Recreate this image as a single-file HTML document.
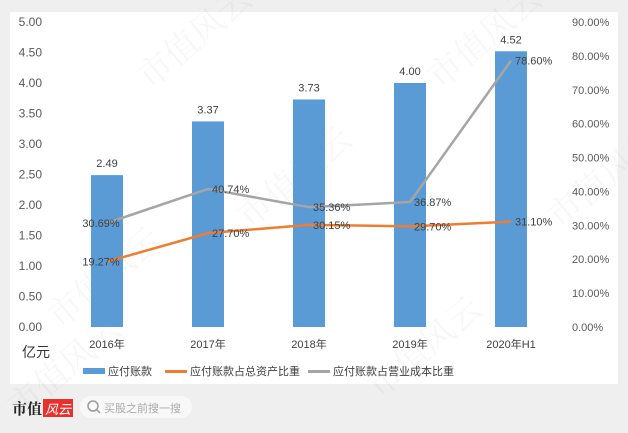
<!DOCTYPE html>
<html><head><meta charset="utf-8"><style>
body{margin:0;background:#efefef;width:628px;height:428px;overflow:hidden;font-family:"Liberation Sans","Noto Sans CJK SC",sans-serif}
</style></head><body>
<svg width="628" height="428" xmlns="http://www.w3.org/2000/svg" font-family="Liberation Sans, Noto Sans CJK SC, sans-serif">
<rect x="10" y="12" width="608" height="372" fill="#fff"/>
<g id="g"></g>
<g>
<text x="12" y="414" font-size="15" font-weight="bold" fill="#222" font-family="Noto Serif CJK SC, serif">市值</text>
<rect x="43" y="399" width="30" height="18" fill="#e8302c"/>
<text x="45" y="414" font-size="13" fill="#fff" font-style="italic">风云</text>
<rect x="80" y="396" width="112" height="22" rx="11" fill="#f8f8f8"/>
<circle cx="93" cy="406" r="5" fill="none" stroke="#999" stroke-width="1.5"/>
<line x1="96.5" y1="409.5" x2="100" y2="413" stroke="#999" stroke-width="1.5"/>
<text x="104" y="412" font-size="11" fill="#aaa">买股之前搜一搜</text>
</g>
</svg>
<script>
const cats=["2016年","2017年","2018年","2019年","2020年H1"];
const bars=[2.49,3.37,3.73,4.00,4.52];
const orange=[19.27,27.70,30.15,29.70,31.10];
const gray=[30.69,40.74,35.36,36.87,78.60];
const leftTicks=["0.00","0.50","1.00","1.50","2.00","2.50","3.00","3.50","4.00","4.50","5.00"];
const rightTicks=["0.00%","10.00%","20.00%","30.00%","40.00%","50.00%","60.00%","70.00%","80.00%","90.00%"];
const NS="http://www.w3.org/2000/svg",g=document.getElementById('g');
const y0=327,yT=22;
const yL=v=>y0-v/5*(y0-yT), yR=v=>y0-v/90*(y0-yT), xC=i=>107+i*101;
function el(t,a,txt){const e=document.createElementNS(NS,t);for(const k in a)e.setAttribute(k,a[k]);if(txt!=null)e.textContent=txt;g.appendChild(e);return e;}
[[150,90],[440,90],[250,230],[560,230],[60,330],[380,400],[20,420]].forEach(p=>{const w=el('text',{x:p[0],y:p[1],'font-size':34,fill:'#000','fill-opacity':0.03,transform:`rotate(-40 ${p[0]} ${p[1]})`,'font-family':'Noto Serif CJK SC, serif'},'市值风云');
});
leftTicks.forEach((t,i)=>{const e=el('text',{x:42,y:yL(i*0.5)+4,'font-size':12,fill:'#595959','text-anchor':'end'},t);
});
rightTicks.forEach((t,i)=>{const e=el('text',{x:572,y:yR(i*10)+4,'font-size':11,fill:'#595959'},t);
});
cats.forEach((c,i)=>{const e=el('text',{x:xC(i),y:348,'font-size':11,fill:'#404040','text-anchor':'middle'},c);
});
const yt=el('text',{x:22,y:357,'font-size':14,fill:'#333'},'亿元');

bars.forEach((v,i)=>{const b=el('rect',{x:xC(i)-16,y:yL(v),width:32,height:y0-yL(v),fill:'#5b9bd5'});

const l=el('text',{x:xC(i),y:yL(v)-8,'font-size':11,fill:'#404040','text-anchor':'middle'},v.toFixed(2));
});
function line(arr,col,name){const p=el('polyline',{points:arr.map((v,i)=>xC(i)+','+yR(v)).join(' '),fill:'none',stroke:col,'stroke-width':2.5,'stroke-linejoin':'round'});

arr.forEach((v,i)=>{const t=el('text',{x:xC(i)+(i==0?-6:4),y:yR(v)+4,'font-size':11,fill:'#404040','text-anchor':i==0?'middle':'start'},v.toFixed(2)+'%');
});}
line(gray,'#a5a5a5','gray-line');
line(orange,'#ed7d31','orange-line');
const leg=[["rect","#5b9bd5","应付账款",83],["line","#ed7d31","应付账款占总资产比重",165],["line","#a5a5a5","应付账款占营业成本比重",308]];
leg.forEach(L=>{const s=el('rect',{x:L[3],y:L[0]=="rect"?368:370,width:22,height:L[0]=="rect"?6:3,fill:L[1]});

const t=el('text',{x:L[3]+25,y:375,'font-size':11,fill:'#404040'},L[2]);
});
</script>
</body></html>
